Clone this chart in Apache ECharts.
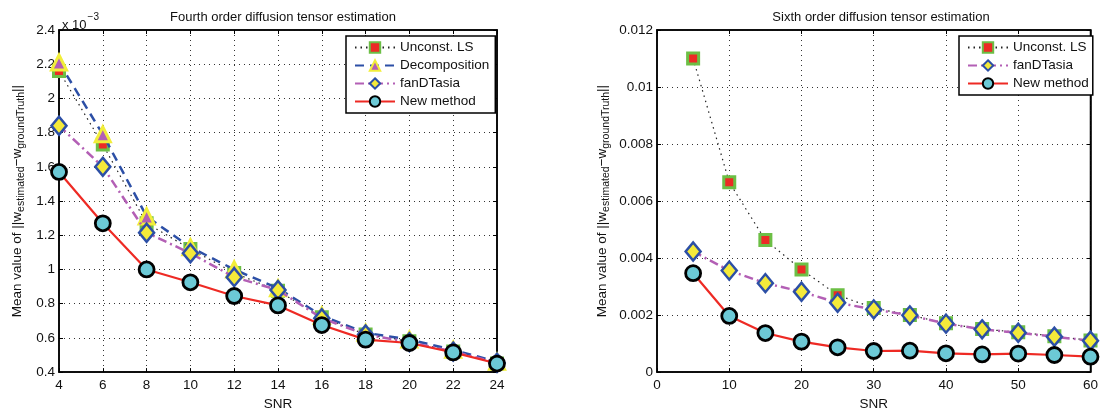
<!DOCTYPE html>
<html><head><meta charset="utf-8">
<script src="https://cdn.jsdelivr.net/npm/echarts@6/dist/echarts.min.js"></script>
<style>html,body{margin:0;padding:0;background:#fff}#c{width:1101px;height:416px}</style>
</head><body><div id="c"></div>
<script>
// ---- data: Fourth order (values in units of 1e-3) ----
const snr4 = [4, 6, 8, 10, 12, 14, 16, 18, 20, 22, 24];
const fourthUnconstLS = [2.16, 1.73, 1.27, 1.12, 0.98, 0.875, 0.72, 0.62, 0.58, 0.52, 0.45];
const fourthDecomposition = [2.21, 1.79, 1.31, 1.13, 1.00, 0.89, 0.73, 0.63, 0.59, 0.53, 0.46];
const fourthFanDTasia = [1.84, 1.60, 1.215, 1.095, 0.955, 0.88, 0.715, 0.62, 0.575, 0.52, 0.455];
const fourthNewMethod = [1.57, 1.27, 1.00, 0.925, 0.845, 0.79, 0.675, 0.59, 0.57, 0.515, 0.45];
const fourthYTicks = [0.4, 0.6, 0.8, 1, 1.2, 1.4, 1.6, 1.8, 2, 2.2, 2.4];
// ---- data: Sixth order ----
const snr6 = [5, 10, 15, 20, 25, 30, 35, 40, 45, 50, 55, 60];
const sixthUnconstLS = [0.0110, 0.00666, 0.00463, 0.00360, 0.00270, 0.00225, 0.00200, 0.00171, 0.00151, 0.00140, 0.00126, 0.00111];
const sixthFanDTasia = [0.00423, 0.00356, 0.00312, 0.00282, 0.00243, 0.00220, 0.00199, 0.00170, 0.00150, 0.00138, 0.00124, 0.00110];
const sixthNewMethod = [0.00347, 0.00197, 0.00137, 0.00107, 0.00087, 0.00074, 0.00075, 0.00066, 0.00062, 0.00065, 0.00060, 0.00054];
const sixthXTicks = [0, 10, 20, 30, 40, 50, 60];
const sixthYTicks = [0, 0.002, 0.004, 0.006, 0.008, 0.01, 0.012];

const FONT = '"Liberation Sans", Arial, sans-serif';
const zip = (xs, ys) => xs.map((x, i) => [x, ys[i]]);

const styles = {
  'Unconst. LS': { symbol: 'rect', symbolSize: 11, itemStyle: { color: '#ec2a25', borderColor: '#6cbf45', borderWidth: 3 }, lineStyle: { color: '#222', width: 1.2, type: [1.5, 4] } },
  'Decomposition': { symbol: 'triangle', symbolSize: 15, itemStyle: { color: '#b35fb5', borderColor: '#f2ee3a', borderWidth: 3 }, lineStyle: { color: '#2c4fa6', width: 2.5, type: [9, 6] } },
  'fanDTasia': { symbol: 'diamond', symbolSize: [15, 18], itemStyle: { color: '#f4ea3a', borderColor: '#2c4fa6', borderWidth: 2.5 }, lineStyle: { color: '#b35fb5', width: 2.5, type: [9, 4, 2, 4] } },
  'New method': { symbol: 'circle', symbolSize: 15, itemStyle: { color: '#6cc9d6', borderColor: '#000', borderWidth: 2.8 }, lineStyle: { color: '#ee2a24', width: 2.2, type: 'solid' } }
};

function mk(name, data, xi, yi, z) {
  const s = styles[name];
  return { name, type: 'line', xAxisIndex: xi, yAxisIndex: yi, data, symbol: s.symbol, symbolSize: s.symbolSize,
    itemStyle: s.itemStyle, lineStyle: s.lineStyle, z: z, animation: false, clip: false };
}

const gridLine = { show: true, lineStyle: { color: '#333', type: [1, 4], width: 1 } };
const axisLbl = { color: '#111', fontFamily: FONT, fontSize: 13.5 };
const yName = '{n|Mean value of ||w}{s|estimated}{n|−w}{s|groundTruth}{n|||}';
const yNameRich = { n: { fontSize: 13.5, fontFamily: FONT, color: '#111' }, s: { fontSize: 10.5, fontFamily: FONT, color: '#111', padding: [9, 0, 0, 0] } };

function xAx(gi, min, max, interval, pos, withName) {
  return { gridIndex: gi, type: 'value', min, max, interval, position: pos,
    axisLine: { show: true, onZero: false, lineStyle: { color: '#000', width: 1.5 } },
    axisTick: { show: true, inside: true, length: 4, lineStyle: { color: '#000' } },
    axisLabel: pos === 'bottom' ? Object.assign({ margin: 6 }, axisLbl) : { show: false },
    splitLine: pos === 'bottom' ? gridLine : { show: false },
    name: withName ? 'SNR' : '', nameLocation: 'middle', nameGap: 21,
    nameTextStyle: { color: '#111', fontFamily: FONT, fontSize: 13.5 } };
}
function yAx(gi, min, max, interval, pos, withName, fmt, gap) {
  return { gridIndex: gi, type: 'value', min, max, interval, position: pos,
    axisLine: { show: true, onZero: false, lineStyle: { color: '#000', width: 1.5 } },
    axisTick: { show: true, inside: true, length: 4, lineStyle: { color: '#000' } },
    axisLabel: pos === 'left' ? Object.assign({ margin: 4, formatter: fmt }, axisLbl) : { show: false },
    splitLine: pos === 'left' ? gridLine : { show: false },
    name: withName ? yName : '', nameLocation: 'middle', nameGap: gap, nameRotate: 90,
    nameTextStyle: { rich: yNameRich } };
}

const legendCommon = { orient: 'vertical', itemWidth: 40, itemHeight: 13, itemGap: 4,
  backgroundColor: '#fff', borderColor: '#000', borderWidth: 1.5,
  textStyle: { fontFamily: FONT, fontSize: 13.5, color: '#111' } };

const chart = echarts.init(document.getElementById('c'), null, { renderer: 'canvas' });
chart.setOption({
  backgroundColor: '#fff',
  animation: false,
  title: [
    { text: 'Fourth order diffusion tensor estimation', left: 278, top: 6, textAlign: 'center', textStyle: { fontFamily: FONT, fontSize: 13, fontWeight: 'normal', color: '#111' } },
    { text: 'Sixth order diffusion tensor estimation', left: 876, top: 6, textAlign: 'center', textStyle: { fontFamily: FONT, fontSize: 13, fontWeight: 'normal', color: '#111' } },
    { text: '{a|x 10}{b|−3}', left: 57, top: 6, textStyle: { fontWeight: 'normal', rich: { a: { fontFamily: FONT, fontSize: 13, fontWeight: 'normal', color: '#111', padding: [8, 0, 0, 0] }, b: { fontFamily: FONT, fontSize: 10, fontWeight: 'normal', color: '#111', padding: [0, 0, 8, 1] } } } }
  ],
  grid: [
    { left: 59, right: 604, top: 30, bottom: 39, show: true, borderColor: '#000', borderWidth: 1.5, backgroundColor: '#fff' },
    { left: 657, right: 6, top: 30, bottom: 39, show: true, borderColor: '#000', borderWidth: 1.5, backgroundColor: '#fff' }
  ],
  xAxis: [
    xAx(0, snr4[0], snr4[snr4.length - 1], 2, 'bottom', true),
    xAx(0, snr4[0], snr4[snr4.length - 1], 2, 'top', false),
    xAx(1, sixthXTicks[0], sixthXTicks[sixthXTicks.length - 1], 10, 'bottom', true),
    xAx(1, sixthXTicks[0], sixthXTicks[sixthXTicks.length - 1], 10, 'top', false)
  ],
  yAxis: [
    yAx(0, fourthYTicks[0], fourthYTicks[fourthYTicks.length - 1], 0.2, 'left', true, v => String(+v.toFixed(1)), 32),
    yAx(0, fourthYTicks[0], fourthYTicks[fourthYTicks.length - 1], 0.2, 'right', false),
    yAx(1, sixthYTicks[0], sixthYTicks[sixthYTicks.length - 1], 0.002, 'left', true, v => String(+v.toFixed(3)), 45),
    yAx(1, sixthYTicks[0], sixthYTicks[sixthYTicks.length - 1], 0.002, 'right', false)
  ],
  legend: [
    Object.assign({ data: ['Unconst. LS', 'Decomposition', 'fanDTasia', 'New method'], left: 346, top: 36, padding: [4.5, 6, 4.5, 8] }, legendCommon),
    Object.assign({ data: ['Unconst. LS', 'fanDTasia', 'New method'], left: 959, top: 36, padding: [4.5, 4, 4.5, 8] }, legendCommon)
  ],
  series: [
    mk('Unconst. LS', zip(snr4, fourthUnconstLS), 0, 0, 2),
    mk('Decomposition', zip(snr4, fourthDecomposition), 0, 0, 3),
    mk('fanDTasia', zip(snr4, fourthFanDTasia), 0, 0, 4),
    mk('New method', zip(snr4, fourthNewMethod), 0, 0, 5),
    mk('Unconst. LS', zip(snr6, sixthUnconstLS), 2, 2, 2),
    mk('fanDTasia', zip(snr6, sixthFanDTasia), 2, 2, 4),
    mk('New method', zip(snr6, sixthNewMethod), 2, 2, 5)
  ]
});
</script></body></html>
